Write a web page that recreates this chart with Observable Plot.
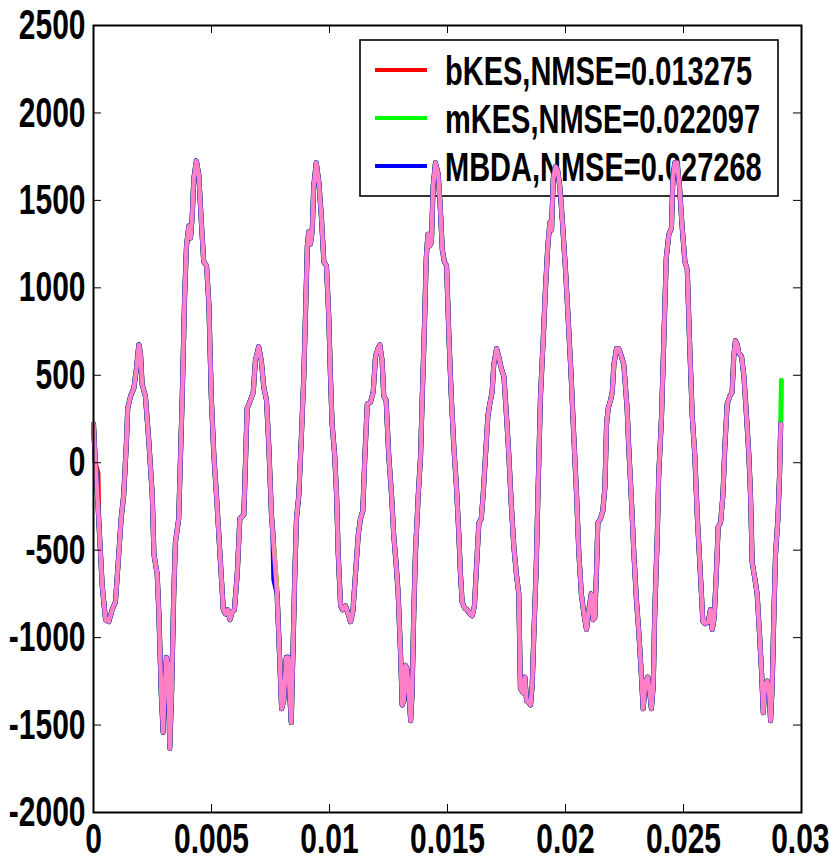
<!DOCTYPE html>
<html>
<head>
<meta charset="utf-8">
<script src="https://cdn.jsdelivr.net/npm/d3@7"></script>
<script src="https://cdn.jsdelivr.net/npm/@observablehq/plot@0.6"></script>
<style>
  html, body { margin: 0; padding: 0; background: #fff; }
  #chart { width: 829px; height: 865px; overflow: hidden; position: relative; }
</style>
</head>
<body>
<div id="chart"></div>
<script>
// ---- data ----
const time = [0,0.00008,0.00022,0.00037,0.00051,0.00065,0.00079,0.00093,0.00107,0.00117,0.00128,0.00140,0.00145,0.00157,0.00171,0.00182,0.00192,0.00199,0.00206,0.00220,0.00234,0.00249,0.00256,0.00270,0.00277,0.00287,0.00295,0.00301,0.00309,0.00317,0.00323,0.00331,0.00340,0.00347,0.00361,0.00376,0.00386,0.00394,0.00404,0.00411,0.00418,0.00425,0.00436,0.00446,0.00456,0.00467,0.00479,0.00489,0.00499,0.00510,0.00521,0.00531,0.00541,0.00550,0.00559,0.00569,0.00578,0.00588,0.00597,0.00609,0.00620,0.00637,0.00644,0.00651,0.00662,0.00677,0.00686,0.00700,0.00711,0.00722,0.00733,0.00743,0.00754,0.00778,0.00788,0.00797,0.00806,0.00817,0.00825,0.00831,0.00838,0.00845,0.00853,0.00860,0.00870,0.00881,0.00891,0.00898,0.00906,0.00912,0.00919,0.00927,0.00933,0.00944,0.00955,0.00966,0.00976,0.00987,0.00997,0.01004,0.01011,0.01022,0.01030,0.01037,0.01047,0.01056,0.01068,0.01079,0.01089,0.01099,0.01110,0.01122,0.01131,0.01141,0.01150,0.01160,0.01174,0.01185,0.01195,0.01205,0.01213,0.01223,0.01230,0.01240,0.01251,0.01263,0.01272,0.01283,0.01291,0.01301,0.01308,0.01315,0.01322,0.01329,0.01336,0.01344,0.01350,0.01357,0.01364,0.01376,0.01386,0.01393,0.01401,0.01410,0.01417,0.01425,0.01432,0.01439,0.01449,0.01461,0.01470,0.01478,0.01487,0.01496,0.01506,0.01516,0.01527,0.01538,0.01548,0.01555,0.01562,0.01572,0.01583,0.01595,0.01605,0.01614,0.01623,0.01633,0.01643,0.01651,0.01661,0.01671,0.01679,0.01689,0.01696,0.01708,0.01717,0.01728,0.01739,0.01750,0.01760,0.01770,0.01781,0.01792,0.01802,0.01809,0.01821,0.01828,0.01835,0.01845,0.01852,0.01859,0.01866,0.01876,0.01884,0.01894,0.01906,0.01915,0.01925,0.01934,0.01941,0.01948,0.01958,0.01967,0.01976,0.01986,0.02000,0.02011,0.02024,0.02035,0.02047,0.02056,0.02067,0.02078,0.02089,0.02096,0.02102,0.02109,0.02117,0.02124,0.02131,0.02137,0.02148,0.02158,0.02167,0.02174,0.02181,0.02191,0.02198,0.02205,0.02216,0.02226,0.02237,0.02247,0.02261,0.02268,0.02280,0.02289,0.02300,0.02311,0.02321,0.02329,0.02339,0.02349,0.02357,0.02364,0.02372,0.02378,0.02389,0.02395,0.02407,0.02417,0.02427,0.02438,0.02449,0.02455,0.02463,0.02473,0.02483,0.02494,0.02506,0.02516,0.02525,0.02537,0.02548,0.02558,0.02568,0.02576,0.02582,0.02593,0.02605,0.02614,0.02622,0.02630,0.02639,0.02647,0.02657,0.02667,0.02675,0.02685,0.02696,0.02706,0.02713,0.02720,0.02728,0.02734,0.02746,0.02756,0.02767,0.02777,0.02784,0.02791,0.02802,0.02812,0.02822,0.02831,0.02838,0.02845,0.02855,0.02862,0.02869,0.02876,0.02883,0.02890,0.02900,0.02907,0.02912];
const signal = [222,-4,-321,-705,-898,-909,-841,-796,-524,-321,-185,131,312,380,426,539,674,629,448,380,131,-185,-524,-638,-864,-1316,-1542,-1316,-1113,-1158,-1633,-1316,-750,-457,-321,380,946,1240,1353,1285,1398,1624,1726,1647,1398,1149,1127,901,380,41,-185,-411,-638,-841,-864,-841,-898,-852,-841,-638,-321,-298,4,312,346,403,584,664,584,426,358,90,-298,-750,-1090,-1407,-1362,-1113,-1113,-1316,-1486,-1090,-638,-321,-185,154,493,833,1240,1319,1251,1330,1579,1715,1602,1398,1149,1127,833,493,222,41,-185,-524,-818,-841,-818,-864,-909,-852,-638,-411,-321,-276,41,335,346,403,607,652,674,584,380,358,41,-185,-411,-592,-750,-1090,-1385,-1362,-1158,-1180,-1316,-1475,-1316,-864,-524,-185,41,380,720,1172,1307,1240,1262,1579,1715,1647,1443,1217,1149,1127,720,380,86,-140,-411,-638,-796,-830,-841,-864,-875,-818,-592,-344,-321,-185,41,267,335,403,561,652,607,539,493,267,41,-231,-479,-638,-750,-1294,-1316,-1226,-1362,-1373,-1385,-1271,-977,-592,-140,380,720,991,1240,1375,1330,1624,1692,1670,1579,1398,1104,833,493,154,-185,-501,-750,-864,-954,-864,-818,-750,-898,-886,-638,-344,-321,-276,-140,222,312,358,403,561,652,652,607,561,312,86,-231,-501,-773,-977,-1203,-1407,-1249,-1226,-1316,-1407,-1271,-864,-411,-71,267,720,1172,1307,1341,1624,1715,1715,1579,1353,1149,1104,720,267,41,-298,-547,-750,-909,-920,-909,-841,-954,-886,-638,-366,-344,-185,86,335,380,403,607,697,674,629,607,493,267,41,-185,-570,-660,-750,-977,-1203,-1430,-1271,-1249,-1294,-1475,-1271,-864,-524,-321,-71,222];

// where the estimates visibly leave the original signal
const bKESDevTime = [0.00019];
const bKESDevValue = [-60];
const mKESDevTime = [0.02915];
const mKESDevValue = [471];
const MBDADevTime = [0.00760, 0.00764];
const MBDADevValue = [-400, -667];

const seriesNames = ["bKES,NMSE=0.013275", "mKES,NMSE=0.022097", "MBDA,NMSE=0.027268"];
const seriesColors = ["#ff0000", "#00ff00", "#0000ff"];
const signalColor = "#ff80c4";

const xTicks = [0, 0.005, 0.01, 0.015, 0.02, 0.025, 0.03];
const xTickLabels = ["0", "0.005", "0.01", "0.015", "0.02", "0.025", "0.03"];
const yTicks = [-2000, -1500, -1000, -500, 0, 500, 1000, 1500, 2000, 2500];
const yTickLabels = ["-2000", "-1500", "-1000", "-500", "0", "500", "1000", "1500", "2000", "2500"];

// ---- build tables ----
const base = time.map((t, i) => ({t, v: signal[i]}));
function withDev(devT, devV) {
  const pts = base.concat(devT.map((t, i) => ({t, v: devV[i]})));
  return pts.sort((a, b) => a.t - b.t);
}
const estimates = [
  withDev(bKESDevTime, bKESDevValue),
  withDev(mKESDevTime, mKESDevValue),
  withDev(MBDADevTime, MBDADevValue)
];

const W = 829, H = 865;
const mL = 93, mR = 28, mT = 25, mB = 53;
const frameW = W - mL - mR, frameH = H - mT - mB;
const tick = 8;
const FONT = "'Liberation Sans', Arial, Helvetica, sans-serif";
const STRETCH = 1.42;

// legend drawn as a render-function mark (under the lines, like the reference)
function legendMark() {
  const g = d3.create("svg:g");
  const bx = 360, by = 40, bw = 418, bh = 156;
  g.append("rect").attr("x", bx).attr("y", by).attr("width", bw).attr("height", bh)
    .attr("fill", "white").attr("stroke", "black").attr("stroke-width", 1.6);
  const rowsY = [70, 118, 166];
  seriesNames.forEach((name, i) => {
    g.append("line").attr("x1", 375).attr("x2", 427).attr("y1", rowsY[i]).attr("y2", rowsY[i])
      .attr("stroke", seriesColors[i]).attr("stroke-width", 4);
    g.append("text").attr("transform", `translate(445,${rowsY[i]}) scale(1,${STRETCH})`)
      .attr("dy", "0.36em").attr("text-anchor", "start").attr("font-family", FONT).attr("font-weight", "bold")
      .attr("font-size", 29).attr("fill", "black").text(name);
  });
  return g.node();
}

const marks = [legendMark];
estimates.forEach((d, i) => {
  marks.push(Plot.line(d, {x: "t", y: "v", stroke: seriesColors[i], strokeWidth: 5, strokeLinejoin: "round", strokeLinecap: "round"}));
});
marks.push(Plot.line(base, {x: "t", y: "v", stroke: signalColor, strokeWidth: 4.4, strokeLinejoin: "round", strokeLinecap: "round"}));
// inward ticks on all four sides
marks.push(Plot.ruleX(xTicks, {x: d => d, insetTop: frameH - tick, stroke: "black", strokeWidth: 1}));
marks.push(Plot.ruleX(xTicks, {x: d => d, insetBottom: frameH - tick, stroke: "black", strokeWidth: 1}));
marks.push(Plot.ruleY(yTicks, {y: d => d, insetRight: frameW - tick, stroke: "black", strokeWidth: 1}));
marks.push(Plot.ruleY(yTicks, {y: d => d, insetLeft: frameW - tick, stroke: "black", strokeWidth: 1}));
marks.push(Plot.frame({stroke: "black", strokeWidth: 2}));
marks.push(Plot.axisX({ticks: xTicks, tickSize: 0, tickPadding: 10, fontSize: 30, fontWeight: "bold",
  tickFormat: (d) => xTickLabels[xTicks.indexOf(d)]}));
marks.push(Plot.axisY({ticks: yTicks, tickSize: 0, tickPadding: 8, fontSize: 30, fontWeight: "bold",
  tickFormat: (d) => yTickLabels[yTicks.indexOf(d)]}));

const chart = Plot.plot({
  width: W, height: H,
  marginLeft: mL, marginRight: mR, marginTop: mT, marginBottom: mB,
  x: {domain: [0, 0.03], label: null},
  y: {domain: [-2000, 2500], label: null},
  style: {background: "transparent", fontFamily: FONT, color: "black", overflow: "visible"},
  marks
});

// MATLAB export looks vertically stretched: stretch the axis labels the same way
d3.select(chart).selectAll("g[aria-label='x-axis tick label'] text, g[aria-label='y-axis tick label'] text")
  .each(function() {
    const tr = this.getAttribute("transform") || "";
    this.setAttribute("transform", tr + ` scale(1,${STRETCH})`);
    this.setAttribute("fill", "black");
  });
// keep the last x label inside the page, as in the reference
d3.select(chart).selectAll("g[aria-label='x-axis tick label'] text")
  .filter(function() { return this.textContent === xTickLabels[xTickLabels.length - 1]; })
  .attr("text-anchor", "end").attr("x", 28);

document.getElementById("chart").appendChild(chart);
</script>
</body>
</html>
